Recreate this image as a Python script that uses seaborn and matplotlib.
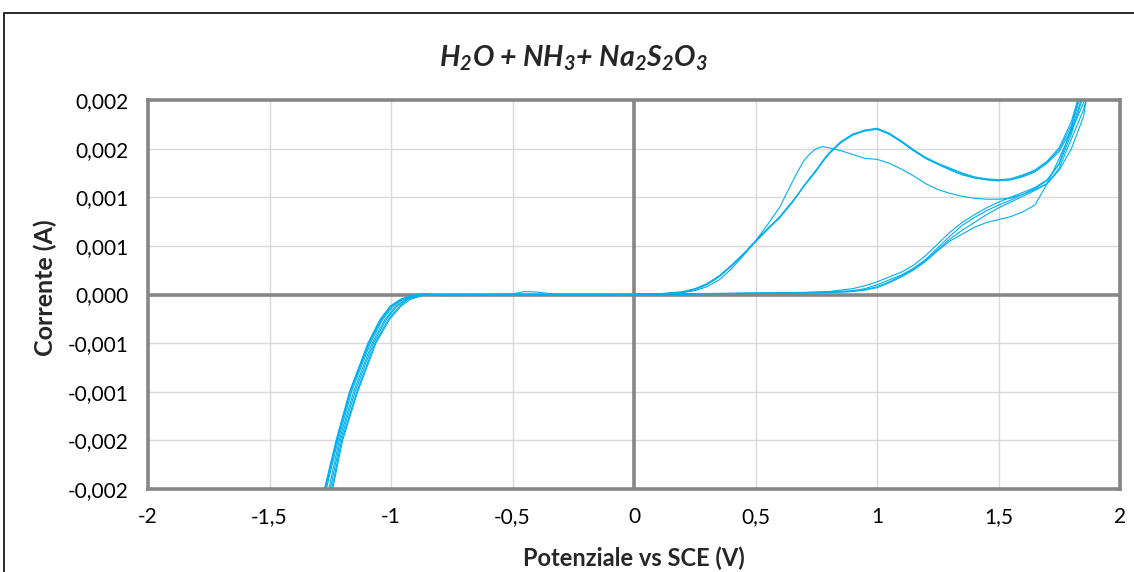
import numpy as np
import pandas as pd
import matplotlib
matplotlib.use("Agg")
import matplotlib.pyplot as plt
import seaborn as sns
from matplotlib.patches import Rectangle

# ---------------- data (potential in V, current in A) ----------------
cycles = ["c1", "c2", "c3", "c4"]

# forward anodic sweep 0 -> +1.9 V
E_fwd = [0.00, 0.10, 0.20, 0.30, 0.40, 0.50, 0.60, 0.70, 0.80, 0.90, 0.95, 1.00, 1.05, 1.10, 1.15,
         1.20, 1.25, 1.30, 1.35, 1.40, 1.45, 1.50, 1.55, 1.60, 1.65, 1.70, 1.75, 1.80, 1.85, 1.90]
I_fwd_c1 = [0.0, 0.000004, 0.000008, 0.00001, 0.000012, 0.000015, 0.000018, 0.000022, 0.00003, 0.00006,
            0.00009, 0.00013, 0.00018, 0.00023, 0.0003, 0.0004, 0.00052, 0.00064, 0.00074, 0.00082,
            0.00089, 0.00095, 0.001, 0.00105, 0.0011, 0.00118, 0.00134, 0.00165, 0.00205, 0.0026]
I_fwd_c2 = [0.0, 0.000004, 0.000008, 0.00001, 0.000012, 0.000014, 0.000016, 0.00002, 0.000026, 0.00004,
            0.00006, 0.0001, 0.00015, 0.0002, 0.00027, 0.00036, 0.00048, 0.0006, 0.00071, 0.00079,
            0.00086, 0.00092, 0.00097, 0.00103, 0.00109, 0.00117, 0.00135, 0.00172, 0.00222, 0.0028]
I_fwd_c3 = [0.0, 0.000003, 0.000006, 0.000008, 0.00001, 0.000012, 0.000014, 0.000017, 0.000022, 0.000032,
            0.00005, 0.00008, 0.00013, 0.00019, 0.00026, 0.00035, 0.00046, 0.00057, 0.00066, 0.00074,
            0.00082, 0.00089, 0.00095, 0.00101, 0.00107, 0.00114, 0.0013, 0.0016, 0.0019, 0.0024]
I_fwd_c4 = [0.0, 0.000003, 0.000006, 0.000008, 0.00001, 0.000012, 0.000014, 0.000016, 0.00002, 0.00003,
            0.000045, 0.00007, 0.00012, 0.00018, 0.00025, 0.00034, 0.00045, 0.00055, 0.00062, 0.00069,
            0.00074, 0.00077, 0.0008, 0.00085, 0.00092, 0.00114, 0.0014, 0.00168, 0.00197, 0.0025]

# reverse sweep +1.9 -> 0 V
E_rev = [1.90, 1.85, 1.80, 1.75, 1.70, 1.65, 1.60, 1.55, 1.50, 1.45, 1.40, 1.35, 1.30, 1.25, 1.20,
         1.15, 1.10, 1.05, 1.00, 0.95, 0.90, 0.85, 0.80, 0.775, 0.75, 0.725, 0.70, 0.675, 0.65, 0.60,
         0.55, 0.50, 0.45, 0.40, 0.35, 0.30, 0.25, 0.20, 0.10, 0.00]
I_rev_c1 = [0.00207, 0.00183, 0.0015, 0.00128, 0.00114, 0.00108, 0.00103, 0.00099, 0.00098, 0.00098,
            0.00099, 0.00101, 0.00104, 0.00108, 0.00114, 0.00122, 0.00129, 0.00135, 0.00139, 0.0014,
            0.00144, 0.00148, 0.00151, 0.00152, 0.0015, 0.00145, 0.00138, 0.00127, 0.00115, 0.0009,
            0.00072, 0.00055, 0.0004, 0.00026, 0.00015, 0.00008, 0.00004, 0.00002, 0.000005, 0.0]
I_rev_c2 = [0.0027, 0.0022, 0.00178, 0.00151, 0.00137, 0.00128, 0.00123, 0.00119, 0.00118, 0.00119,
            0.00121, 0.00125, 0.0013, 0.00135, 0.00141, 0.00149, 0.00158, 0.00166, 0.00171, 0.00169,
            0.00165, 0.00157, 0.00145, 0.00137, 0.00128, 0.0012, 0.00112, 0.00103, 0.00095, 0.0008,
            0.00068, 0.00055, 0.00041, 0.00029, 0.00018, 0.0001, 0.00005, 0.00002, 0.000005, 0.0]
I_rev_c3 = [0.0026, 0.00213, 0.00174, 0.00149, 0.00136, 0.00127, 0.00122, 0.00118, 0.00117, 0.00118,
            0.0012, 0.00124, 0.00129, 0.00134, 0.0014, 0.00148, 0.00157, 0.00165, 0.0017, 0.00169,
            0.00164, 0.00156, 0.00144, 0.00136, 0.00128, 0.0012, 0.00112, 0.00103, 0.00095, 0.0008,
            0.00067, 0.00055, 0.00042, 0.0003, 0.00019, 0.00011, 0.00005, 0.00002, 0.000005, 0.0]
I_rev_c4 = [0.0025, 0.00207, 0.0017, 0.00147, 0.00135, 0.00126, 0.00121, 0.00118, 0.00117, 0.00118,
            0.0012, 0.00123, 0.00128, 0.00134, 0.0014, 0.00148, 0.00157, 0.00165, 0.0017, 0.00168,
            0.00164, 0.00156, 0.00144, 0.00136, 0.00127, 0.00119, 0.00112, 0.00103, 0.00094, 0.00079,
            0.00067, 0.00054, 0.00041, 0.00029, 0.00019, 0.00011, 0.00006, 0.00003, 0.000006, 0.0]

# cathodic sweep 0 -> -0.8 V (flat part)
E_neg = [0.0, -0.1, -0.2, -0.3, -0.4, -0.5, -0.6, -0.7, -0.8]
I_neg = [0.0, -0.000004, -0.000006, -0.000008, -0.000008, -0.000008, -0.000008, -0.00001, -0.00001]

# steep cathodic wave (current grid, potentials per cycle)
I_down = [0.000005, -0.00001, -0.00005, -0.00012, -0.00026, -0.0005, -0.001, -0.0015, -0.002, -0.0025]
I_up = [-0.0025, -0.002, -0.0015, -0.001, -0.0005, -0.00026, -0.00012, -0.00005, -0.00001, 0.000005]
E_down_c1 = [-0.86, -0.88, -0.93, -0.965, -1.012, -1.066, -1.141, -1.203, -1.244, -1.285]
E_up_c1 = [-1.31, -1.266, -1.218, -1.162, -1.085, -1.035, -0.99, -0.95, -0.90, -0.87]
E_down_c2 = [-0.86, -0.89, -0.935, -0.975, -1.02, -1.072, -1.148, -1.208, -1.25, -1.29]
E_up_c2 = [-1.315, -1.27, -1.222, -1.167, -1.09, -1.04, -0.997, -0.955, -0.905, -0.875]
E_down_c3 = [-0.865, -0.895, -0.94, -0.98, -1.026, -1.078, -1.154, -1.213, -1.256, -1.295]
E_up_c3 = [-1.32, -1.274, -1.226, -1.171, -1.095, -1.046, -1.004, -0.962, -0.915, -0.88]
E_down_c4 = [-0.85, -0.87, -0.92, -0.959, -1.007, -1.062, -1.137, -1.199, -1.24, -1.28]
E_up_c4 = [-1.318, -1.272, -1.224, -1.168, -1.092, -1.043, -1.0, -0.958, -0.91, -0.87]

# return -0.8 -> 0 V (flat part)
E_back = [-0.8, -0.7, -0.6, -0.5, -0.45, -0.4, -0.35, -0.3, -0.2, -0.1, 0.0]
I_back_c1 = [-0.000005, -0.000005, 0.0, 0.000006, 0.00003, 0.000025, 0.00001, 0.0, -0.000003, 0.0, 0.0]
I_back_c2 = [-0.000005, -0.000005, -0.000004, -0.000003, -0.000002, 0.0, 0.0, 0.0, 0.0, 0.0, 0.0]
I_back_c3 = [-0.000006, -0.000005, -0.000004, -0.000003, -0.000002, -0.000001, 0.0, 0.0, 0.0, 0.0, 0.0]
I_back_c4 = [-0.000005, -0.000004, -0.000004, -0.000003, -0.000002, 0.0, 0.0, 0.0, 0.0, 0.0, 0.0]

x_ticks = [-2, -1.5, -1, -0.5, 0, 0.5, 1, 1.5, 2]
x_tick_labels = ["-2", "-1,5", "-1", "-0,5", "0", "0,5", "1", "1,5", "2"]
y_ticks = [-0.002, -0.0015, -0.001, -0.0005, 0.0, 0.0005, 0.001, 0.0015, 0.002]
y_tick_labels = ["-0,002", "-0,002", "-0,001", "-0,001", "0,000", "0,001", "0,001", "0,002", "0,002"]

# ---------------- assemble ----------------
fwd = {"c1": I_fwd_c1, "c2": I_fwd_c2, "c3": I_fwd_c3, "c4": I_fwd_c4}
rev = {"c1": I_rev_c1, "c2": I_rev_c2, "c3": I_rev_c3, "c4": I_rev_c4}
edown = {"c1": E_down_c1, "c2": E_down_c2, "c3": E_down_c3, "c4": E_down_c4}
eup = {"c1": E_up_c1, "c2": E_up_c2, "c3": E_up_c3, "c4": E_up_c4}
back = {"c1": I_back_c1, "c2": I_back_c2, "c3": I_back_c3, "c4": I_back_c4}

frames = []
for c in cycles:
    E = E_fwd + E_rev[1:] + E_neg[1:] + edown[c] + eup[c] + E_back
    I = fwd[c] + rev[c][1:] + I_neg[1:] + I_down + I_up + back[c]
    frames.append(pd.DataFrame({"E": E, "I": I, "cycle": c}))
df = pd.concat(frames, ignore_index=True)

# ---------------- style ----------------
sns.set_theme(style="white")
plt.rcParams["font.family"] = ["Lato", "DejaVu Sans"]
plt.rcParams["mathtext.fontset"] = "custom"
plt.rcParams["mathtext.rm"] = "Lato:italic:bold"
plt.rcParams["mathtext.it"] = "Lato:italic:bold"
plt.rcParams["mathtext.bf"] = "Lato:italic:bold"

W, H = 1134, 572
fig = plt.figure(figsize=(W / 100, H / 100), dpi=100)
ax = fig.add_axes([148 / W, 1 - 489 / H, (1120 - 148) / W, (489 - 100) / H])

# chart-area border (partly cut off on right/bottom)
fig.patches.append(Rectangle((3.5 / W, -0.2), 1.5, 1.2 - 12.5 / H, transform=fig.transFigure,
                             fill=False, edgecolor="#1a1a1a", linewidth=1.3))

grid_c = "#D9D9D9"
axis_c = "#868686"
for xv in x_ticks:
    ax.axvline(xv, color=grid_c, lw=1.0, zorder=0.5)
for yv in y_ticks:
    ax.axhline(yv, color=grid_c, lw=1.0, zorder=0.5)
ax.axhline(0, color=axis_c, lw=2.6, zorder=1.5)
ax.axvline(0, color=axis_c, lw=2.6, zorder=1.5)

sns.lineplot(data=df, x="E", y="I", units="cycle", estimator=None, sort=False,
             color="#00B0F0", linewidth=0.8, ax=ax, zorder=2)

ax.set_xlim(-2, 2)
ax.set_ylim(-0.002, 0.002)
ax.set_xticks(x_ticks)
ax.set_xticklabels(x_tick_labels)
ax.set_yticks(y_ticks)
ax.set_yticklabels(y_tick_labels)
ax.tick_params(axis="both", length=0, labelsize=15, colors="#000000")
ax.tick_params(axis="x", pad=13)
ax.tick_params(axis="y", pad=14)
for s in ax.spines.values():
    s.set_color(axis_c)
    s.set_linewidth(2.6)
    s.set_visible(True)

ax.set_xlabel("Potenziale vs SCE (V)", fontsize=17, fontweight="bold")
ax.xaxis.set_label_coords(0.5, (489 - 558) / 389)
ax.xaxis.label.set_va("center")
ax.set_ylabel("Corrente (A)", fontsize=18, fontweight="bold")
ax.yaxis.set_label_coords((45 - 148) / 972, (489 - 288) / 389)
ax.yaxis.label.set_va("center")

fig.text(574 / W, 1 - 58 / H, "H$_2$O + NH$_3$+ Na$_2$S$_2$O$_3$", ha="center", va="center",
         fontsize=20.5, fontweight="bold", style="italic")

fig.savefig("out.png", dpi=100)
